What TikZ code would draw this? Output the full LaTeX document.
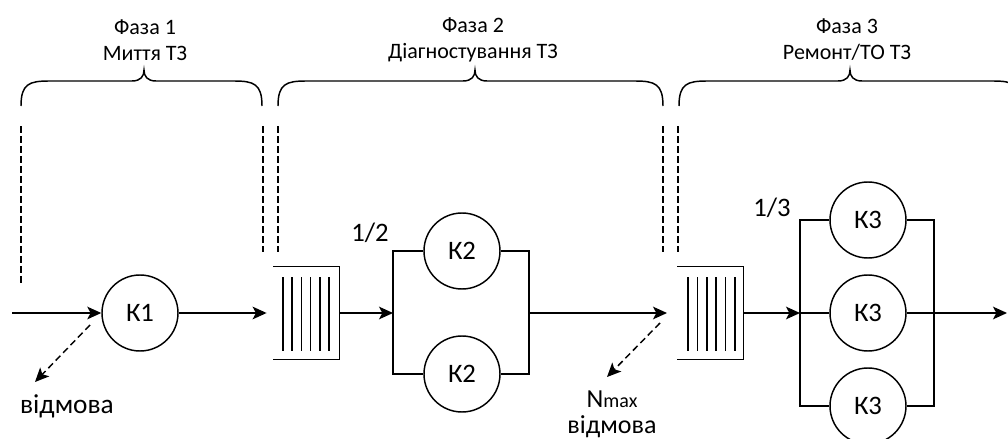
\documentclass[tikz,border=0pt]{standalone}
\usepackage{fontspec}
\setmainfont{Carlito}
\usetikzlibrary{arrows.meta}
\begin{document}
\begin{tikzpicture}[x=0.75pt,y=-0.75pt,
  line width=1.1pt,
  arr/.style={-{Stealth[length=10.5pt,width=9.5pt,inset=2.5pt]}},
  srv/.style={circle,draw,minimum size=57pt,inner sep=0pt,font=\fontsize{20}{22}\selectfont},
  qbox/.style={minimum width=48.75pt,minimum height=69pt,inner sep=0pt},
  phase/.style={align=center,font=\fontsize{16.5}{19.5}\selectfont,inner sep=0pt},
  lbl/.style={inner sep=0pt,font=\fontsize{20}{22}\selectfont},
  fail/.style={dashed,dash pattern=on 5pt off 3pt,-{Stealth[length=10.5pt,width=9.5pt,inset=2.5pt]}},
  sep/.style={dashed,dash pattern=on 5pt off 2.5pt,line width=1pt},
  brc/.style={line width=1.1pt}
]
\useasboundingbox (0,0) rectangle (1008,439);

% phase titles
\node[phase] (t1) at (145,40) {Фаза 1\\Миття ТЗ};
\node[phase] (t2) at (473,40) {Фаза 2\\Діагностування ТЗ};
\node[phase] (t3) at (847,40) {Фаза 3\\Ремонт/ТО ТЗ};

% braces
\def\mybrace#1#2#3{\draw[brc] (#1,106) .. controls (#1,84) and (#1+8,81) .. (#1+28,81) -- (#3-12,81) .. controls (#3-3,81) and (#3,76) .. (#3,70) .. controls (#3,76) and (#3+3,81) .. (#3+12,81) -- (#2-28,81) .. controls (#2-8,81) and (#2,84) .. (#2,106);}
\mybrace{21}{262}{144}
\mybrace{278}{663}{475}
\mybrace{679}{1021}{850}

% separators
\draw[sep] (21,126) -- (21,285);
\draw[sep] (263,126) -- (263,252);
\draw[sep] (278,126) -- (278,252);
\draw[sep] (663,126) -- (663,252);
\draw[sep] (678,126) -- (678,252);

% phase 1
\coordinate (in) at (12,313);
\node[srv] (k1) at (140,313) {К1};
\draw[arr] (in) -- (k1.west);

% queue 1
\node[qbox] (q1) at (306.5,313) {};
\draw (q1.north west) -- (q1.north east) -- (q1.south east) -- (q1.south west);
\foreach \x in {283,292.2,301.4,310.6,319.8,329} \draw (\x,277) -- (\x,351);
\draw[arr,shorten >=5pt] (k1.east) -- (q1.west);

% failure 1
\coordinate (f1s) at (90,325);
\coordinate (f1e) at (35,382);
\draw[fail] (f1s) -- (f1e);
\node[lbl,font=\fontsize{20.5}{22}\selectfont] (v1) at (67,406) {відмова};

% phase 2
\coordinate (b2t) at (393,251);
\coordinate (b2m) at (393,313);
\coordinate (b2b) at (393,374);
\coordinate (c2t) at (529,251);
\coordinate (c2m) at (529,313);
\coordinate (c2b) at (529,374);
\node[srv] (k2a) at (462,251) {К2};
\node[srv] (k2b) at (462,374) {К2};
\draw[arr] (q1.east) -- (b2m);
\draw (k2a.west) -- (b2t) -- (b2b) -- (k2b.west);
\draw (k2a.east) -- (c2t) -- (c2b) -- (k2b.east);
\coordinate (o2) at (667,313);
\draw[arr] (c2m) -- (o2);
\node[lbl] (h2) at (370,233) {1/2};

% failure 2
\coordinate (f2s) at (660,323);
\coordinate (f2e) at (607,377);
\draw[fail] (f2s) -- (f2e);
\node[lbl,align=center,font=\fontsize{19.5}{19.5}\selectfont] (nm) at (612,414) {N{\fontsize{15}{17}\selectfont max}\\відмова};

% queue 2
\node[qbox] (q2) at (710.5,313) {};
\draw (q2.north west) -- (q2.north east) -- (q2.south east) -- (q2.south west);
\foreach \x in {688,697.4,706.8,716.2,725.6,735} \draw (\x,277) -- (\x,351);

% phase 3
\coordinate (b3t) at (800,220);
\coordinate (b3m) at (800,313);
\coordinate (b3b) at (800,406);
\coordinate (c3t) at (934,220);
\coordinate (c3b) at (934,406);
\node[srv] (k3a) at (868,220) {К3};
\node[srv] (k3b) at (868,313) {К3};
\node[srv] (k3c) at (868,406) {К3};
\draw[arr] (q2.east) -- (b3m);
\draw (k3a.west) -- (b3t) -- (b3b) -- (k3c.west);
\draw (b3m) -- (k3b.west);
\draw (k3a.east) -- (c3t) -- (c3b) -- (k3c.east);
\coordinate (out) at (1007,313);
\draw[arr] (k3b.east) -- (out);
\node[lbl] (h3) at (772,208) {1/3};
\end{tikzpicture}
\end{document}
